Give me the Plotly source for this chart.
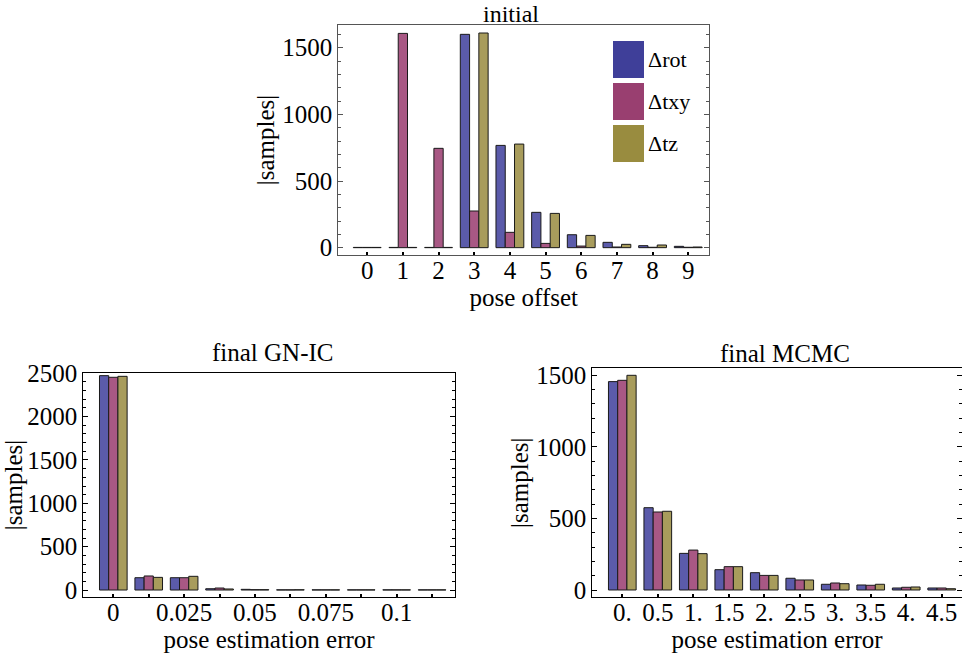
import plotly.graph_objects as go

W, H = 962, 659

# ---------------- data ----------------
series_names = ["Δrot", "Δtxy", "Δtz"]
bar_colors = ["#5b5baa", "#a85884", "#a89c5c"]
legend_colors = ["#3f3f99", "#993f70", "#998c3f"]

# initial (pose offset)
init_cats = ["0", "1", "2", "3", "4", "5", "6", "7", "8", "9"]
init_rot = [2, 2, 2, 1600, 767, 265, 97, 40, 15, 10]
init_txy = [2, 1607, 745, 275, 115, 32, 12, 5, 3, 3]
init_tz = [2, 2, 2, 1610, 777, 257, 92, 25, 20, 5]

# final GN-IC (pose estimation error)
gn_bins = [0, 0.0125, 0.025, 0.0375, 0.05, 0.0625, 0.075, 0.0875, 0.1, 0.1125]
gn_ticklabels = ["0", "", "0.025", "", "0.05", "", "0.075", "", "0.1", ""]
gn_rot = [2473, 142, 142, 15, 8, 2, 2, 2, 2, 2]
gn_txy = [2454, 162, 142, 23, 4, 2, 2, 2, 2, 2]
gn_tz = [2465, 146, 158, 12, 4, 3, 2, 2, 2, 2]

# final MCMC (pose estimation error)
mc_bins = [0, 0.5, 1, 1.5, 2, 2.5, 3, 3.5, 4, 4.5]
mc_ticklabels = ["0.", "0.5", "1.", "1.5", "2.", "2.5", "3.", "3.5", "4.", "4.5"]
mc_rot = [1456, 575, 256, 142, 121, 82, 40, 35, 14, 14]
mc_txy = [1465, 545, 279, 163, 102, 70, 49, 33, 19, 14]
mc_tz = [1500, 550, 254, 163, 102, 70, 44, 40, 21, 9]

FONT = "Liberation Serif"
FS = 25


def px_x(v):
    return v / W


def px_y(v):
    return 1 - v / H


fig = go.Figure()

panels = [
    ("x", "y", init_cats, [init_rot, init_txy, init_tz]),
    ("x2", "y2", gn_bins, [gn_rot, gn_txy, gn_tz]),
    ("x3", "y3", mc_bins, [mc_rot, mc_txy, mc_tz]),
]
for xa, ya, cats, vals in panels:
    for name, col, v in zip(series_names, bar_colors, vals):
        fig.add_trace(go.Bar(
            x=cats, y=v, name=name, xaxis=xa, yaxis=ya,
            marker=dict(color=col, line=dict(color="#1a1a1a", width=1)),
            showlegend=False,
        ))

tickfont = dict(family=FONT, size=FS, color="black")
titlefont = dict(family=FONT, size=FS, color="black")


def yaxis_common(linecolor):
    return dict(
        automargin=False,
        showgrid=False, zeroline=False, showline=True, linecolor=linecolor,
        linewidth=1.2, mirror="ticks", ticks="inside", ticklen=5,
        tickcolor=linecolor, tickwidth=1, dtick=500, tick0=0,
        tickfont=tickfont,
        minor=dict(ticks="inside", ticklen=3, dtick=100, tick0=0,
                   tickcolor=linecolor, showgrid=False),
        title=dict(text="|samples|", font=titlefont, standoff=0),
    )


def xaxis_common(linecolor):
    return dict(
        automargin=False,
        showgrid=False, zeroline=False, showline=True, linecolor=linecolor,
        linewidth=1.2, mirror=True, ticks="inside", ticklen=3,
        tickcolor="black", tickwidth=2, tickfont=tickfont,
        ticklabelstandoff=-7,
    )


fig.update_layout(
    width=W, height=H,
    margin=dict(l=0, r=0, t=0, b=0, autoexpand=False),
    paper_bgcolor="white", plot_bgcolor="white",
    barmode="group", bargap=0.22, bargroupgap=0,
    font=dict(family=FONT, color="black"),
    xaxis=dict(**xaxis_common("#555555"), type="category",
               domain=[px_x(338.3), px_x(709.3)], anchor="y",
               range=[-0.81, 9.59],
               title=dict(text="pose offset", font=titlefont, standoff=2)),
    yaxis=dict(**yaxis_common("#555555"), domain=[px_y(255), px_y(25)],
               anchor="x", range=[-55, 1670]),
    xaxis2=dict(**xaxis_common("black"), domain=[px_x(83.3), px_x(455)],
                anchor="y2", range=[-0.01059, 0.1206],
                tickmode="array", tickvals=gn_bins, ticktext=gn_ticklabels,
                title=dict(text="pose estimation error", font=titlefont,
                           standoff=2)),
    yaxis2=dict(**yaxis_common("black"), domain=[px_y(597.3), px_y(372.7)],
                anchor="x2", range=[-84, 2507]),
    xaxis3=dict(**xaxis_common("black"), domain=[px_x(592.3), 1.0],
                anchor="y3", range=[-0.4227, 4.786],
                tickmode="array", tickvals=mc_bins, ticktext=mc_ticklabels,
                title=dict(text="pose estimation error", font=titlefont,
                           standoff=2)),
    yaxis3=dict(**yaxis_common("black"), domain=[px_y(597.3), px_y(368.3)],
                anchor="x3", range=[-51, 1549]),
)

# panel titles
fig.add_annotation(text="initial", x=px_x(511), y=1.0, xref="paper",
                   yref="paper", showarrow=False,
                   font=dict(family=FONT, size=24, color="black"),
                   xanchor="center", yanchor="top", borderpad=0)
for text, cx, cy in [("final GN-IC", 273, 352), ("final MCMC", 785, 353)]:
    fig.add_annotation(text=text, x=px_x(cx), y=px_y(cy), xref="paper",
                       yref="paper", showarrow=False,
                       font=dict(family=FONT, size=FS, color="black"),
                       xanchor="center", yanchor="middle")

# legend (large swatches as in the original)
sw_tops = [41, 83, 125]
for name, col, top in zip(series_names, legend_colors, sw_tops):
    fig.add_shape(type="rect", xref="paper", yref="paper",
                  x0=px_x(613), x1=px_x(644), y0=px_y(top + 37), y1=px_y(top),
                  fillcolor=col, line=dict(width=0))
    fig.add_annotation(text=name, x=px_x(646), y=px_y(top + 18),
                       xref="paper", yref="paper", showarrow=False,
                       xanchor="left", yanchor="middle",
                       font=dict(family=FONT, size=22, color="black"))

fig.write_html("out.html")
